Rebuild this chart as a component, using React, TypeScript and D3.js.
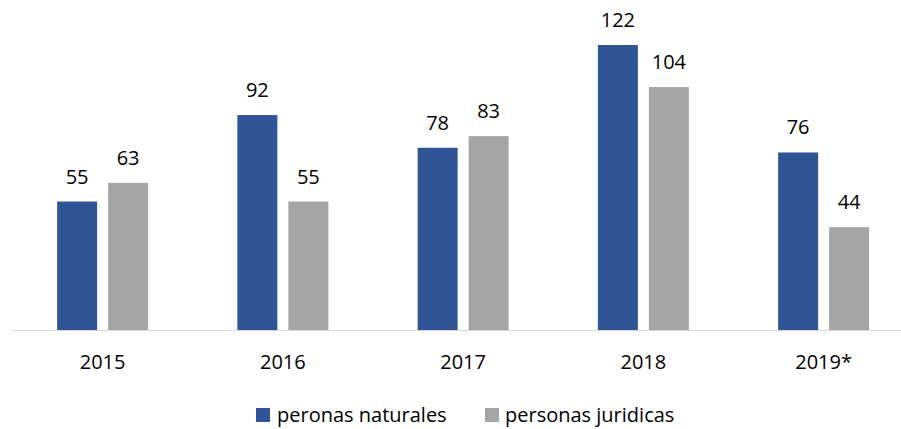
import React from "react";
import * as d3 from "d3";

const categories = ["2015", "2016", "2017", "2018", "2019*"];
const seriesNames = ["peronas naturales", "personas juridicas"];
const naturales = [55, 92, 78, 122, 76];
const juridicas = [63, 55, 83, 104, 44];
const colors = ["#2F5597", "#A5A5A5"];

const W = 901;
const H = 429;
const FONT = "'Open Sans', 'Noto Sans', sans-serif";

export default function App() {
  const x = d3.scaleBand<string>().domain(categories).range([12.5, 913.75]).padding(0);
  const x1 = d3
    .scaleBand<string>()
    .domain(seriesNames)
    .range([-45.5, 45.5])
    .paddingInner(11 / 51)
    .paddingOuter(0);
  const y = d3.scaleLinear().domain([0, 122]).range([330, 45]);
  const values = [naturales, juridicas];

  const legendItems = [
    { name: seriesNames[0], color: colors[0], sx: 256, tx: 277 },
    { name: seriesNames[1], color: colors[1], sx: 485, tx: 505 },
  ];

  return (
    <div style={{ position: "absolute", left: 0, top: 0 }}>
      <svg width={W} height={H} style={{ display: "block", background: "#fff" }}>
        {categories.map((c, i) => {
          const cx = (x(c) as number) + x.bandwidth() / 2;
          return (
            <g key={c}>
              {seriesNames.map((s, j) => {
                const v = values[j][i];
                const bx = cx + (x1(s) as number);
                return (
                  <g key={s}>
                    <rect x={bx} y={y(v)} width={x1.bandwidth()} height={y(0) - y(v)} fill={colors[j]} />
                    <text
                      x={bx + x1.bandwidth() / 2}
                      y={y(v) - 18}
                      textAnchor="middle"
                      fontFamily={FONT}
                      fontSize={20}
                      fill="#000"
                    >
                      {v}
                    </text>
                  </g>
                );
              })}
              <text x={cx} y={369} textAnchor="middle" fontFamily={FONT} fontSize={20} fill="#000">
                {c}
              </text>
            </g>
          );
        })}
        <line x1={12} x2={901} y1={330.5} y2={330.5} stroke="#D9D9D9" strokeWidth={1} />
        {legendItems.map((l) => (
          <g key={l.name}>
            <rect x={l.sx} y={408} width={14} height={14} fill={l.color} />
            <text x={l.tx} y={422} fontFamily={FONT} fontSize={20} fill="#000">
              {l.name}
            </text>
          </g>
        ))}
      </svg>
    </div>
  );
}
